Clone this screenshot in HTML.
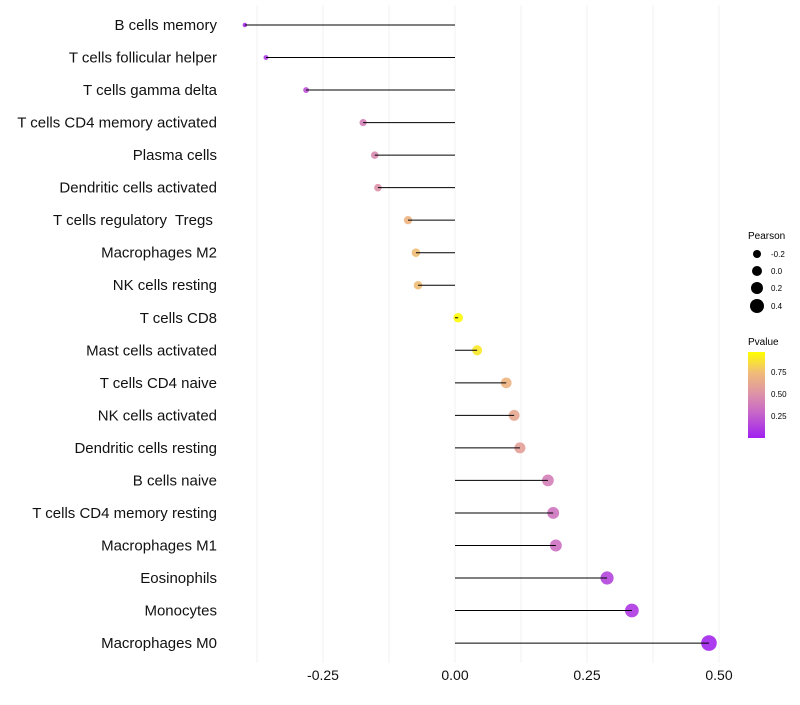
<!DOCTYPE html>
<html><head><meta charset="utf-8"><style>
body{margin:0;background:#fff;}
svg{font-family:"Liberation Sans",sans-serif;}
#ylabels text{white-space:pre;}
</style></head><body>
<svg id="chart" width="800" height="700">
<g id="grid"></g>
<g id="marks"></g>
<g id="ylabels"></g>
<g id="xlabels"></g>
<g>
<text x="748" y="239" font-size="10">Pearson</text>
<circle cx="757" cy="254" r="4" fill="#000"/><text x="771" y="257" font-size="8">-0.2</text>
<circle cx="757" cy="271" r="5" fill="#000"/><text x="771" y="274" font-size="8">0.0</text>
<circle cx="757" cy="288" r="6" fill="#000"/><text x="771" y="291" font-size="8">0.2</text>
<circle cx="757" cy="306" r="7" fill="#000"/><text x="771" y="309" font-size="8">0.4</text>
</g>
<g>
<defs><linearGradient id="pg" x1="0" y1="1" x2="0" y2="0">
<stop offset="0" stop-color="#a020f0"/><stop offset="0.3" stop-color="#c868c8"/><stop offset="0.52" stop-color="#de94a6"/><stop offset="0.76" stop-color="#f0bc78"/><stop offset="1" stop-color="#ffff00"/></linearGradient></defs>
<text x="748" y="345" font-size="10">Pvalue</text>
<rect x="748" y="352" width="17" height="86" fill="url(#pg)"/>
<text x="771" y="375" font-size="8">0.75</text>
<text x="771" y="397" font-size="8">0.50</text>
<text x="771" y="419" font-size="8">0.25</text>
</g>
</svg>
<script>
const categories=["B cells memory","T cells follicular helper","T cells gamma delta","T cells CD4 memory activated","Plasma cells","Dendritic cells activated","T cells regulatory  Tregs ","Macrophages M2","NK cells resting","T cells CD8","Mast cells activated","T cells CD4 naive","NK cells activated","Dendritic cells resting","B cells naive","T cells CD4 memory resting","Macrophages M1","Eosinophils","Monocytes","Macrophages M0"];
const pearson=[-0.398,-0.358,-0.282,-0.174,-0.152,-0.146,-0.089,-0.074,-0.070,0.006,0.042,0.097,0.112,0.123,0.176,0.186,0.191,0.288,0.335,0.481];
const pvalues=[0.05,0.1,0.2,0.4,0.45,0.5,0.7,0.75,0.75,0.97,0.9,0.7,0.62,0.58,0.4,0.35,0.33,0.15,0.1,0.02];
const xTicks=[-0.25,0,0.25,0.5];
const xTickLabels=["-0.25","0.00","0.25","0.50"];
const NS="http://www.w3.org/2000/svg";
const x=v=>455+v*528;
const y=i=>25+i*32.53;
const r=v=>2.2+(v+0.4)/0.88*5.6;
const stops=[[0,[160,32,240]],[0.3,[200,104,200]],[0.52,[222,148,166]],[0.76,[240,188,120]],[1,[255,255,0]]];
function col(p){p=Math.max(0,Math.min(1,p/0.98));for(let k=1;k<stops.length;k++){if(p<=stops[k][0]){const a=stops[k-1],b=stops[k],t=(p-a[0])/(b[0]-a[0]);return `rgb(${a[1].map((c,j)=>Math.round(c+(b[1][j]-c)*t)).join(',')})`;}}return 'rgb(255,255,0)';}
function mk(tag,attrs,parent){const e=document.createElementNS(NS,tag);for(const k in attrs)e.setAttribute(k,attrs[k]);document.getElementById(parent).appendChild(e);return e;}
for(let g=-0.375;g<=0.5;g+=0.125){const l=mk('line',{x1:x(g),x2:x(g),y1:5,y2:663,stroke:'#f2f2f2','stroke-width':1},'grid');

}
categories.forEach((c,i)=>{
const t=mk('text',{x:217,y:y(i)+5,'font-size':15,'text-anchor':'end',fill:'#111'},'ylabels');t.textContent=c;


const d=mk('circle',{cx:x(pearson[i]),cy:y(i),r:r(pearson[i]),fill:col(pvalues[i]),'fill-opacity':0.9},'marks');


const l=mk('line',{x1:x(0),x2:x(pearson[i]),y1:y(i),y2:y(i),stroke:'#000','stroke-width':1},'marks');


});
xTicks.forEach((v,i)=>{const t=mk('text',{x:x(v),y:680,'font-size':14,'text-anchor':'middle',fill:'#111'},'xlabels');t.textContent=xTickLabels[i];

});
</script>
</body></html>
